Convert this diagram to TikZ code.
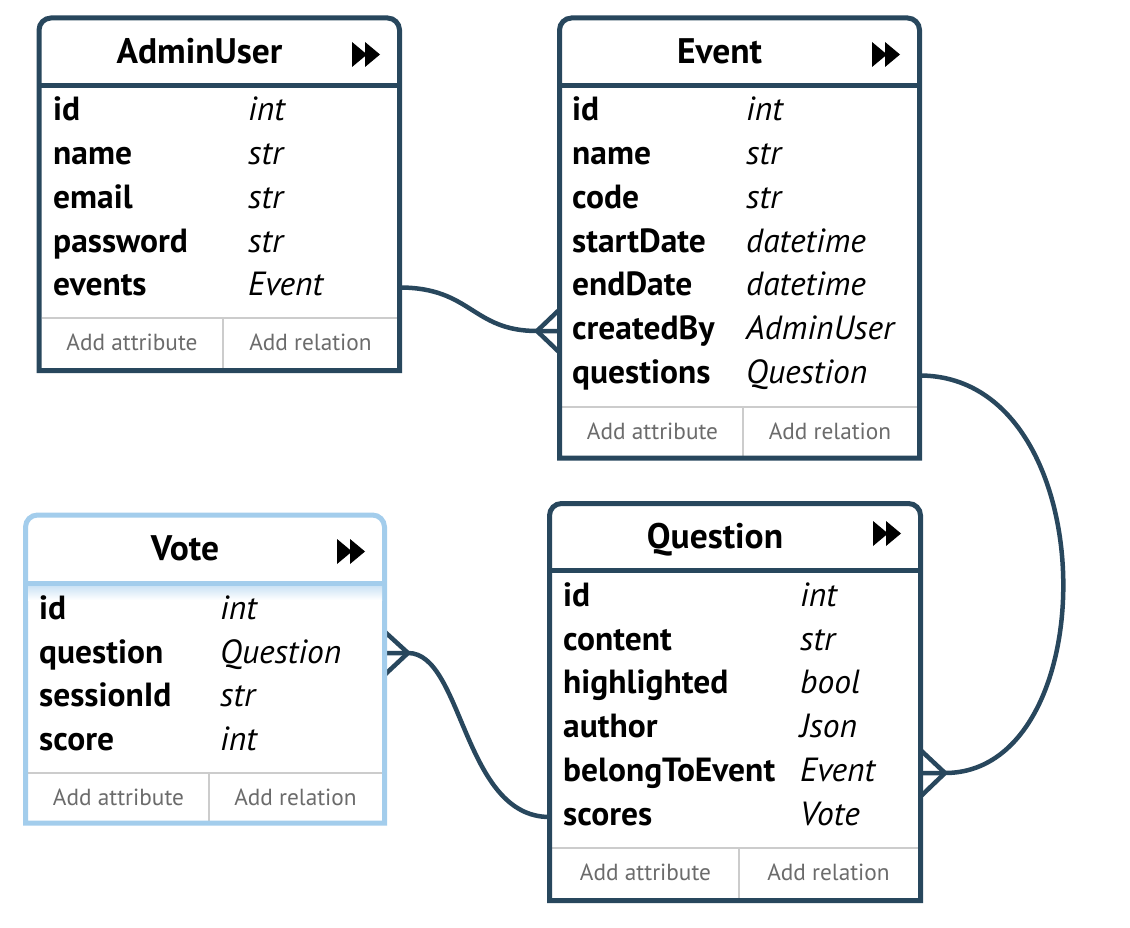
\documentclass[tikz,border=0pt]{standalone}
\usepackage{fontspec}
\setmainfont{PT Sans}
\definecolor{dk}{HTML}{28475D}
\definecolor{lb}{HTML}{A3CDEC}
\definecolor{sepc}{HTML}{CCCCCC}
\definecolor{ftc}{HTML}{6B6B6B}
\tikzset{
  boxline/.style={line width=5pt},
  conn/.style={draw=dk, line width=4.5pt},
  fname/.style={anchor=base west, inner sep=0pt, font=\fontsize{33.5}{33.5}\selectfont\bfseries},
  ftype/.style={anchor=base west, inner sep=0pt, font=\fontsize{33.5}{33.5}\selectfont\itshape},
  etitle/.style={anchor=base, inner sep=0pt, font=\fontsize{35.5}{35.5}\selectfont\bfseries},
  foot/.style={anchor=base, inner sep=0pt, text=ftc, font=\fontsize{23.3}{23.3}\selectfont},
  gline/.style={draw=sepc, line width=2pt},
}
% #1 colour, #2 left, #3 top, #4 right, #5 header divider, #6 bottom, #7 footer sep, #8 footer divider
\newcommand\erframe[8]{%
  \fill[white] (#2,#3) rectangle (#4,#6);
  \draw[gline] (#2+2.5,#7) -- (#4-2.5,#7);
  \draw[gline] (#8,#7) -- (#8,#6-2.5);
  \draw[#1, boxline, line join=miter] (#2,#6) [rounded corners=12pt] -- (#2,#3) -- (#4,#3) [sharp corners] -- (#4,#6) -- cycle;
  \draw[#1, boxline] (#2,#5) -- (#4,#5);
}
% #1 right x, #2 centre y
\newcommand\ericon[2]{%
  \fill[black] (#1-28,#2-12.5) -- (#1-13,#2) -- (#1-28,#2+12.5) -- cycle;
  \fill[black] (#1-15,#2-12.5) -- (#1,#2) -- (#1-15,#2+12.5) -- cycle;
}
% #1 prefix, #2 name x, #3 type x, #4 baseline, #5 name, #6 type
\newcommand\errow[6]{%
  \node[fname] (#1-n) at (#2,#4+2.5) {#5};
  \node[ftype] (#1-t) at (#3,#4+2.5) {#6};
}
\begin{document}
\begin{tikzpicture}[x=1pt,y=-1pt]
\useasboundingbox (0,0) rectangle (1130,928);

% ---- connector anchor points
\coordinate (au-ev) at (399.5,287.5);
\coordinate (ev-cb) at (559.5,331);
\coordinate (ev-cb-a) at (537,331);
\coordinate (ev-q) at (919.5,375.5);
\coordinate (q-be) at (920.5,773);
\coordinate (q-be-a) at (945,773);
\coordinate (v-q) at (384.5,653);
\coordinate (v-q-a) at (408,653);
\coordinate (q-sc) at (549.5,817);

% ---- connectors
\draw[conn] (au-ev) .. controls +(72,0) and +(-65,0) .. (ev-cb-a) -- (ev-cb);
\draw[conn] (ev-cb-a) -- ++(22.5,-21.5);
\draw[conn] (ev-cb-a) -- ++(22.5,21.5);

\draw[conn] (ev-q) .. controls +(187,0) and +(162,0) .. (q-be-a) -- (q-be);
\draw[conn] (q-be-a) -- ++(-24.5,-23);
\draw[conn] (q-be-a) -- ++(-24.5,23.5);

\draw[conn] (v-q) -- (v-q-a) .. controls +(55,0) and +(-86.5,0) .. (q-sc);
\draw[conn] (v-q-a) -- ++(-23.5,-21.5);
\draw[conn] (v-q-a) -- ++(-23.5,22);

% ---- AdminUser
\erframe{dk}{39}{18}{399.5}{85.5}{370.5}{318}{223}
\node[etitle] (au-title) at (199.5,63.5) {AdminUser};
\ericon{380}{54.5}
\errow{au1}{53}{248}{118.5}{id}{int}
\errow{au2}{53}{248}{162.2}{name}{str}
\errow{au3}{53}{248}{205.9}{email}{str}
\errow{au4}{53}{248}{249.6}{password}{str}
\errow{au5}{53}{248}{293.3}{events}{Event}
\node[foot] (au-fa) at (132,350.7) {Add attribute};
\node[foot] (au-fr) at (310.5,350.7) {Add relation};

% ---- Event
\erframe{dk}{559.5}{18}{919.5}{85.5}{458}{407}{743}
\node[etitle] (ev-title) at (719.5,63.5) {Event};
\ericon{900}{54.5}
\errow{ev1}{572}{746}{118.5}{id}{int}
\errow{ev2}{572}{746}{162.2}{name}{str}
\errow{ev3}{572}{746}{205.9}{code}{str}
\errow{ev4}{572}{746}{249.6}{startDate}{datetime}
\errow{ev5}{572}{746}{293.3}{endDate}{datetime}
\errow{ev6}{572}{746}{337.0}{createdBy}{AdminUser}
\errow{ev7}{572}{746}{380.7}{questions}{Question}
\node[foot] (ev-fa) at (652.5,439.7) {Add attribute};
\node[foot] (ev-fr) at (830,439.7) {Add relation};

% ---- Question
\erframe{dk}{549.5}{503.5}{920.5}{570.5}{900.5}{848}{739}
\node[etitle] (q-title) at (715,548) {Question};
\ericon{901}{533.5}
\errow{q1}{563}{800}{604}{id}{int}
\errow{q2}{563}{800}{647.7}{content}{str}
\errow{q3}{563}{800}{691.4}{highlighted}{bool}
\errow{q4}{563}{800}{735.1}{author}{Json}
\errow{q5}{563}{800}{778.8}{belongToEvent}{Event}
\errow{q6}{563}{800}{822.5}{scores}{Vote}
\node[foot] (q-fa) at (645.5,880.7) {Add attribute};
\node[foot] (q-fr) at (828.5,880.7) {Add relation};

% ---- Vote
\erframe{lb}{25.5}{515}{384.5}{583.5}{823}{773}{209}
\shade[top color=lb!55, bottom color=white] (28,586) rectangle (382,600);
\node[etitle] (v-title) at (185,560) {Vote};
\ericon{365}{551.5}
\errow{v1}{39}{220}{617}{id}{int}
\errow{v2}{39}{220}{660.7}{question}{Question}
\errow{v3}{39}{220}{704.4}{sessionId}{str}
\errow{v4}{39}{220}{748.1}{score}{int}
\node[foot] (v-fa) at (118.5,805.7) {Add attribute};
\node[foot] (v-fr) at (295.5,805.7) {Add relation};
\end{tikzpicture}
\end{document}
